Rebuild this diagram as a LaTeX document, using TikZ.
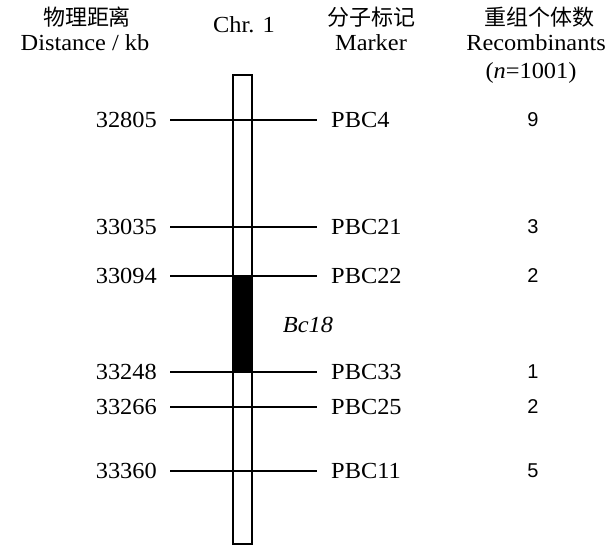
\documentclass[tikz,border=0pt]{standalone}
\usepackage{fontspec}
\setmainfont{Liberation Serif}[FakeStretch=1.06]
\newfontfamily\cjk{Noto Sans CJK SC}
\newfontfamily\arialfont{Liberation Sans}
\begin{document}
\begin{tikzpicture}[x=1pt,y=-1pt,
    lbl/.style={font=\fontsize{23}{25}\selectfont, inner sep=0pt},
    cnt/.style={font=\arialfont\fontsize{20}{22}\selectfont, inner sep=0pt},
    hd/.style={font=\cjk\fontsize{22}{24}\selectfont, inner sep=0pt},
    mline/.style={line width=1.2pt}]
          \useasboundingbox (0,0) rectangle (606,554);
          % column headings
          \node[hd]  (hdist)  at (87,17)  {物理距离};
          \node[lbl] (tdist)  at (85,43)  {Distance / kb};
          \node[lbl] (tchr)   at (244,25) {Chr. 1};
          \node[hd]  (hmark)  at (371,17) {分子标记};
          \node[lbl] (tmark)  at (371,43) {Marker};
          \node[hd]  (hrec)   at (539,17) {重组个体数};
          \node[lbl] (trec)   at (536,43) {Recombinants};
          \node[lbl] (tn)     at (531,73) {(\textit{n}=1001)};
          % chromosome
          \draw[line width=1.3pt] (233,75) rectangle (252,544);
          \fill[black] (233,276) rectangle (252,372);
          \node[lbl,font=\itshape\fontsize{23}{25}\selectfont] (gene) at (308,325) {Bc18};
          % physical positions
          \node[lbl,anchor=east] (d1) at (157,120) {32805};
          \node[lbl,anchor=east] (d2) at (157,227) {33035};
          \node[lbl,anchor=east] (d3) at (157,276) {33094};
          \node[lbl,anchor=east] (d4) at (157,372) {33248};
          \node[lbl,anchor=east] (d5) at (157,407) {33266};
          \node[lbl,anchor=east] (d6) at (157,471) {33360};
          % markers
          \node[lbl,anchor=west] (m1) at (331,120) {PBC4};
          \node[lbl,anchor=west] (m2) at (331,227) {PBC21};
          \node[lbl,anchor=west] (m3) at (331,276) {PBC22};
          \node[lbl,anchor=west] (m4) at (331,372) {PBC33};
          \node[lbl,anchor=west] (m5) at (331,407) {PBC25};
          \node[lbl,anchor=west] (m6) at (331,471) {PBC11};
          % recombinants
          \node[cnt] (r1) at (533,120) {9};
          \node[cnt] (r2) at (533,227) {3};
          \node[cnt] (r3) at (533,276) {2};
          \node[cnt] (r4) at (533,372) {1};
          \node[cnt] (r5) at (533,407) {2};
          \node[cnt] (r6) at (533,471) {5};
          % marker lines
          \draw[mline] ([xshift=13pt]d1.east) -- ([xshift=-14pt]m1.west);
          \draw[mline] ([xshift=13pt]d2.east) -- ([xshift=-14pt]m2.west);
          \draw[mline] ([xshift=13pt]d3.east) -- ([xshift=-14pt]m3.west);
          \draw[mline] ([xshift=13pt]d4.east) -- ([xshift=-14pt]m4.west);
          \draw[mline] ([xshift=13pt]d5.east) -- ([xshift=-14pt]m5.west);
          \draw[mline] ([xshift=13pt]d6.east) -- ([xshift=-14pt]m6.west);
\end{tikzpicture}
\end{document}
